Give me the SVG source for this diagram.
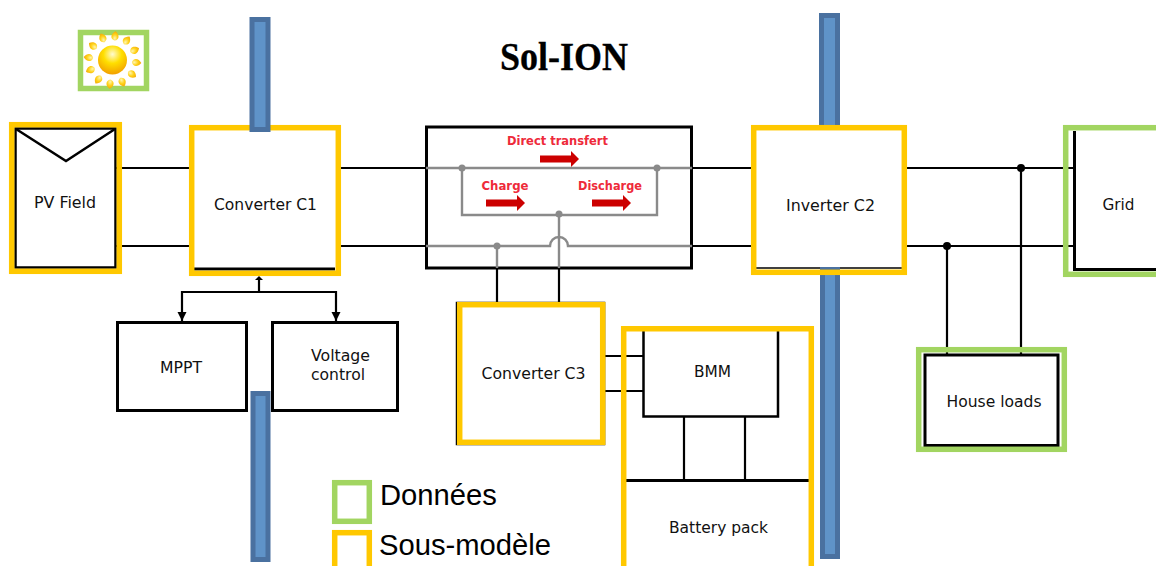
<svg xmlns="http://www.w3.org/2000/svg" xmlns:xlink="http://www.w3.org/1999/xlink" width="1156" height="566" viewBox="0 0 1156 566">
<style>
.blue{fill:#5f93c8;stroke:#4a71a0;stroke-width:5}
.sub{fill:none;stroke:#ffc800;stroke-width:5.5}
.dat{fill:none;stroke:#a2d561;stroke-width:5.5}
.box{fill:#fff;stroke:#000;stroke-width:3}
.w{fill:none;stroke:#000;stroke-width:2.2}
.g{fill:none;stroke:#8a8a8a;stroke-width:2.4}
.t{font-family:"DejaVu Sans",sans-serif;font-size:16px;fill:#111}
.r{font-family:"DejaVu Sans",sans-serif;font-weight:bold;font-size:13px;fill:#ee2a3a}
.l{font-family:"Liberation Sans",Arial,sans-serif;font-size:29.2px;fill:#000}
.ray{fill:url(#rg)}
</style>
<defs>
<radialGradient id="sg" cx="0.5" cy="0.3" r="0.7"><stop offset="0" stop-color="#fffbd0"/><stop offset="0.45" stop-color="#ffdf00"/><stop offset="1" stop-color="#f2a000"/></radialGradient>
<radialGradient id="rg" cx="0.5" cy="0.75" r="0.8"><stop offset="0" stop-color="#fff6b0"/><stop offset="0.5" stop-color="#ffd21a"/><stop offset="1" stop-color="#f0a000"/></radialGradient>
<path id="ray" class="ray" d="M0,-29 C4.500,-26 5,-21 0,-19.500 C-5,-21 -4.500,-26 0,-29Z"/>
<marker id="ah" markerWidth="10" markerHeight="10" refX="9" refY="4.500" orient="auto" markerUnits="userSpaceOnUse"><path d="M0,0 L9,4.500 L0,9Z" fill="#000"/></marker>
<path id="red" d="M0,-3.500 H31 V-8 L39,0 L31,8 V3.500 H0Z" fill="#cc0000"/>
</defs>
<rect width="1156" height="566" fill="#fff"/>

<g id="connectors">
<path class="w" d="M116,168H426M116,246H426M692,168H1075M692,246H1075"/>
<path class="w" d="M947,246V354M1021,168V354"/>
<circle cx="947" cy="246" r="4" fill="#000"/>
<circle cx="1021" cy="168" r="4" fill="#000"/>
<path class="w" d="M497,268V303M559,268V303"/>
<path class="w" d="M605,356H643M605,391H643"/>
<path class="w" d="M684,417V481M745,417V481"/>
<path class="w" d="M259,292V280"/>
<path d="M255,280 L259,276 L263,280Z" fill="#000"/>
<path class="w" d="M259,292H182V321" marker-end="url(#ah)"/>
<path class="w" d="M259,292H336V321" marker-end="url(#ah)"/>
</g>

<g id="sun">
<rect class="dat" x="80.500" y="32.500" width="66" height="56"/>
<g transform="translate(112.500,60)">
<use xlink:href="#ray" transform="rotate(6)"/><use xlink:href="#ray" transform="rotate(36)"/><use xlink:href="#ray" transform="rotate(66)"/><use xlink:href="#ray" transform="rotate(96)"/><use xlink:href="#ray" transform="rotate(126)"/><use xlink:href="#ray" transform="rotate(156)"/><use xlink:href="#ray" transform="rotate(186)"/><use xlink:href="#ray" transform="rotate(216)"/><use xlink:href="#ray" transform="rotate(246)"/><use xlink:href="#ray" transform="rotate(276)"/><use xlink:href="#ray" transform="rotate(306)"/><use xlink:href="#ray" transform="rotate(336)"/>
<circle r="14.500" fill="url(#sg)"/>
</g>
</g>

<text x="564" y="70" text-anchor="middle" font-family="'Liberation Serif',serif" font-weight="bold" font-size="39" fill="#000" stroke="#000" stroke-width="0.300" textLength="128" lengthAdjust="spacingAndGlyphs">Sol-ION</text>

<g id="pv-field">
<rect x="15.500" y="128.500" width="100" height="139" fill="#fff" stroke="#000" stroke-width="2.500"/>
<path d="M16,129 L66,161 L115,129" fill="none" stroke="#000" stroke-width="2.500"/>
<rect class="sub" x="11.700" y="124.700" width="107.600" height="146.600"/>
<text class="t" x="65" y="208" text-anchor="middle" textLength="62" lengthAdjust="spacingAndGlyphs">PV Field</text>
</g>

<g id="converter-c1">
<rect x="191.700" y="127.700" width="146.600" height="145.600" fill="#fff"/>
<path d="M194,269H335" stroke="#000" stroke-width="3"/>
<rect class="sub" x="191.700" y="127.700" width="146.600" height="145.600"/>
<text class="t" x="265.500" y="210" text-anchor="middle" textLength="103" lengthAdjust="spacingAndGlyphs">Converter C1</text>
</g>

<g id="blue-bars">
<rect class="blue" x="252" y="19.500" width="16" height="110"/>
<rect class="blue" x="253" y="393.500" width="15" height="166"/>
<rect class="blue" x="821.500" y="15.500" width="16" height="112"/>
</g>

<g id="transfer">
<rect x="426.500" y="127" width="265" height="141" fill="#fff" stroke="#000" stroke-width="3"/>
<path class="g" d="M426,168H692M462,168V215H657V168M559,215V268M426,246H550A9,9 0 0 1 568,246H692M497,246V268"/>
<circle cx="462" cy="168" r="3.500" fill="#8a8a8a"/>
<circle cx="657" cy="168" r="3.500" fill="#8a8a8a"/>
<circle cx="559" cy="214" r="3.500" fill="#8a8a8a"/>
<circle cx="497" cy="246" r="3.500" fill="#8a8a8a"/>
<text class="r" x="557.500" y="145" text-anchor="middle" textLength="101" lengthAdjust="spacingAndGlyphs">Direct transfert</text>
<text class="r" x="505" y="190" text-anchor="middle" textLength="47" lengthAdjust="spacingAndGlyphs">Charge</text>
<text class="r" x="610" y="190" text-anchor="middle" textLength="64" lengthAdjust="spacingAndGlyphs">Discharge</text>
<use xlink:href="#red" x="540" y="159"/>
<use xlink:href="#red" x="486" y="203"/>
<use xlink:href="#red" x="592" y="203"/>
</g>

<g id="inverter-c2">
<rect x="753.700" y="127.700" width="150.600" height="144.600" fill="#fff"/>
<path d="M756,268H902" stroke="#000" stroke-width="1.500"/>
<rect class="blue" x="822.500" y="269.500" width="15" height="287"/>
<rect class="sub" x="753.700" y="127.700" width="150.600" height="144.600"/>
<text class="t" x="830.500" y="211" text-anchor="middle" textLength="89" lengthAdjust="spacingAndGlyphs">Inverter C2</text>
</g>

<g id="grid">
<path d="M1074.500,131V269.500H1156" fill="#fff" stroke="#000" stroke-width="3"/>
<rect class="dat" x="1065.700" y="127.700" width="110" height="146.600"/>
<text class="t" x="1118.500" y="210" text-anchor="middle" textLength="32" lengthAdjust="spacingAndGlyphs">Grid</text>
</g>

<g id="mppt">
<rect class="box" x="117.500" y="322.500" width="129" height="88"/>
<text class="t" x="181" y="373" text-anchor="middle" textLength="42" lengthAdjust="spacingAndGlyphs">MPPT</text>
</g>

<g id="voltage-control">
<rect class="box" x="272.500" y="322.500" width="125" height="88"/>
<text class="t" x="311" y="361" textLength="59" lengthAdjust="spacingAndGlyphs">Voltage</text>
<text class="t" x="311" y="380" textLength="54" lengthAdjust="spacingAndGlyphs">control</text>
</g>

<g id="converter-c3">
<rect x="456.500" y="302.500" width="148" height="142" fill="#fff" stroke="#000" stroke-width="1.500"/>
<rect class="sub" x="459.700" y="304.700" width="143" height="137.600"/>
<text class="t" x="533.500" y="379" text-anchor="middle" textLength="104" lengthAdjust="spacingAndGlyphs">Converter C3</text>
</g>

<g id="bmm">
<path d="M643.500,329V416.500H778V329" fill="none" stroke="#000" stroke-width="2.500"/>
<text class="t" x="712.500" y="377" text-anchor="middle" textLength="37" lengthAdjust="spacingAndGlyphs">BMM</text>
</g>

<g id="battery-pack">
<path d="M626,480.500H809" stroke="#000" stroke-width="3"/>
<path d="M623.700,570V328.700H811.300V570" class="sub"/>
<text class="t" x="718.500" y="533" text-anchor="middle" textLength="99" lengthAdjust="spacingAndGlyphs">Battery pack</text>
</g>

<g id="house-loads">
<rect class="box" x="925" y="355" width="133" height="90.500"/>
<rect class="dat" x="918.700" y="349.700" width="145.600" height="99.600"/>
<text class="t" x="994" y="407" text-anchor="middle" textLength="95" lengthAdjust="spacingAndGlyphs">House loads</text>
</g>

<g id="legend">
<rect class="dat" x="334.700" y="482.700" width="34.600" height="38.600"/>
<rect class="sub" x="334.700" y="532.700" width="34.600" height="50"/>
<text class="l" x="380" y="505">Données</text>
<text class="l" x="379" y="555">Sous-modèle</text>
</g>
</svg>
